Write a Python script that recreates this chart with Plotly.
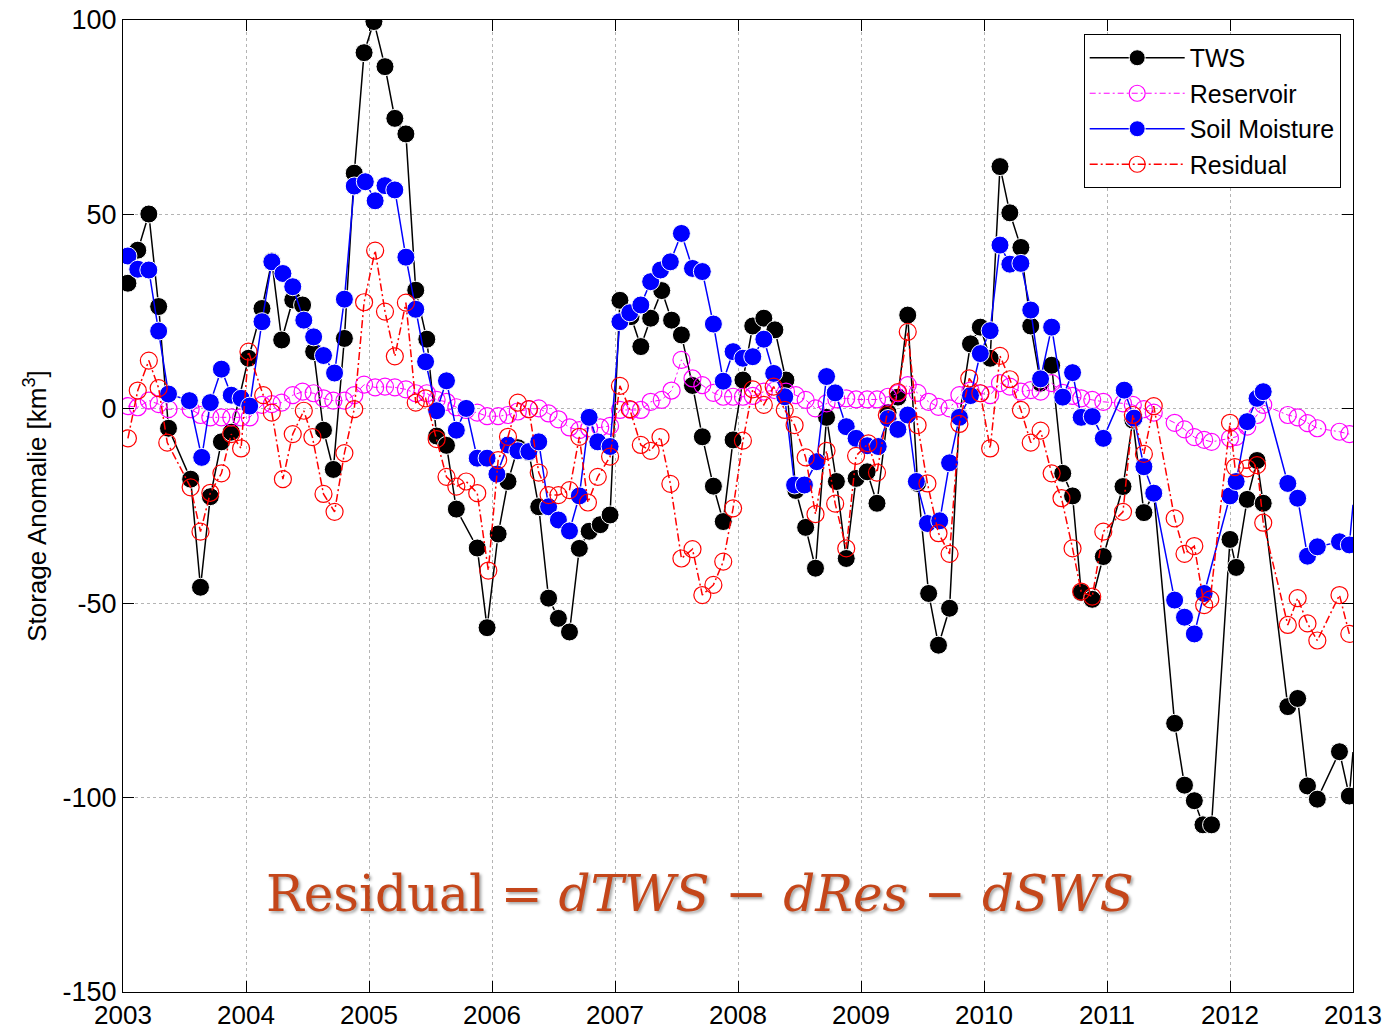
import plotly.graph_objects as go

# ---------------- data (decimal years, km^3) ----------------
tws_t = [2003.04, 2003.12, 2003.21, 2003.29, 2003.37, 2003.55, 2003.63, 2003.71, 2003.80, 2003.88,
         2004.02, 2004.13, 2004.21, 2004.29, 2004.38, 2004.46, 2004.55, 2004.63, 2004.71, 2004.80,
         2004.88, 2004.96, 2005.04, 2005.13, 2005.21, 2005.30, 2005.38, 2005.47, 2005.55, 2005.63,
         2005.71, 2005.88, 2005.96, 2006.05, 2006.13, 2006.21, 2006.30, 2006.38, 2006.46, 2006.54,
         2006.63, 2006.71, 2006.79, 2006.88, 2006.96, 2007.04, 2007.13, 2007.21, 2007.29, 2007.38,
         2007.46, 2007.54, 2007.63, 2007.71, 2007.80, 2007.88, 2007.96, 2008.04, 2008.12, 2008.21,
         2008.30, 2008.39, 2008.47, 2008.55, 2008.63, 2008.72, 2008.80, 2008.88, 2008.96, 2009.05,
         2009.13, 2009.22, 2009.30, 2009.38, 2009.46, 2009.55, 2009.63, 2009.72, 2009.80, 2009.89,
         2009.97, 2010.05, 2010.13, 2010.21, 2010.30, 2010.38, 2010.46, 2010.55, 2010.64, 2010.72,
         2010.79, 2010.88, 2010.97, 2011.13, 2011.21, 2011.30, 2011.38, 2011.55, 2011.63, 2011.71,
         2011.78, 2011.85, 2012.00, 2012.05, 2012.14, 2012.22, 2012.27, 2012.47, 2012.55, 2012.63,
         2012.71, 2012.89, 2012.97, 2013.00]
tws_v = [32.3, 40.8, 50.1, 26.3, -5.0, -18.1, -45.9, -22.6, -8.5, -6.0,
         13.0, 25.8, 38.0, 17.7, 28.0, 26.7, 14.7, -5.5, -15.6, 18.1,
         60.6, 91.6, 99.6, 88.0, 74.7, 70.7, 30.5, 17.9, -7.0, -9.4,
         -25.8, -35.8, -56.3, -32.2, -18.7, -10.0, -11.2, -25.2, -48.7, -53.9,
         -57.4, -35.9, -31.5, -29.8, -27.3, 27.9, 23.7, 16.0, 23.3, 30.4,
         22.8, 19.0, 6.0, -7.2, -19.9, -29.0, -8.0, 7.4, 21.3, 23.3,
         20.3, 7.4, -21.0, -30.5, -41.0, -2.2, -18.7, -38.5, -17.9, -16.2,
         -24.3, -1.0, 3.0, 24.1, -19.2, -47.5, -60.8, -51.3, -2.0, 16.7,
         21.0, 13.0, 62.3, 50.4, 41.5, 21.3, 6.6, 11.2, -16.6, -22.4,
         -47.2, -49.0, -38.0, -20.0, -2.9, -26.7, -21.7, -80.9, -96.8, -100.8,
         -107.0, -107.0, -33.6, -40.8, -23.3, -13.3, -24.3, -76.6, -74.5, -97.0,
         -100.4, -88.2, -99.6, -88.3]

res_t = [2003.04, 2003.12, 2003.21, 2003.29, 2003.37, 2003.55, 2003.63, 2003.71, 2003.80, 2003.88,
         2003.96, 2004.03, 2004.13, 2004.21, 2004.29, 2004.38, 2004.46, 2004.55, 2004.63, 2004.71,
         2004.80, 2004.88, 2004.96, 2005.05, 2005.13, 2005.21, 2005.30, 2005.38, 2005.47, 2005.55,
         2005.63, 2005.71, 2005.79, 2005.88, 2005.96, 2006.05, 2006.13, 2006.21, 2006.30, 2006.38,
         2006.46, 2006.54, 2006.63, 2006.71, 2006.79, 2006.88, 2006.96, 2007.04, 2007.13, 2007.21,
         2007.29, 2007.38, 2007.46, 2007.54, 2007.63, 2007.71, 2007.80, 2007.88, 2007.96, 2008.04,
         2008.12, 2008.21, 2008.30, 2008.39, 2008.47, 2008.55, 2008.63, 2008.72, 2008.80, 2008.88,
         2008.96, 2009.05, 2009.13, 2009.22, 2009.30, 2009.38, 2009.46, 2009.55, 2009.63, 2009.72,
         2009.80, 2009.89, 2009.97, 2010.05, 2010.13, 2010.21, 2010.30, 2010.38, 2010.46, 2010.55,
         2010.64, 2010.72, 2010.79, 2010.88, 2010.97, 2011.13, 2011.21, 2011.30, 2011.38, 2011.55,
         2011.63, 2011.71, 2011.79, 2011.85, 2012.00, 2012.05, 2012.14, 2012.22, 2012.27, 2012.47,
         2012.55, 2012.63, 2012.71, 2012.89, 2012.97]
res_v = [0.7, 0.4, 2.1, 1.2, -0.1, -0.1, -1.6, -2.2, -2.2, -2.2,
         -2.2, -2.2, 1.0, 1.2, 1.6, 3.5, 4.4, 4.0, 2.7, 2.1,
         2.1, 3.5, 6.2, 5.5, 5.7, 5.5, 5.0, 4.0, 4.0, 2.3,
         1.8, 0.4, -0.3, -1.0, -1.9, -1.9, -1.6, -0.7, -0.1, 0.1,
         -1.2, -2.7, -4.8, -5.5, -5.0, -4.8, -4.4, -0.3, -0.3, -0.3,
         1.8, 2.3, 4.7, 12.6, 7.8, 6.1, 4.1, 3.1, 3.1, 3.1,
         3.3, 4.4, 4.8, 4.4, 3.5, 2.3, 0.1, 1.4, 2.4, 2.7,
         2.4, 2.4, 2.4, 3.1, 4.0, 6.1, 4.1, 1.8, 0.5, 0.1,
         3.5, 4.7, 4.0, 3.5, 6.6, 5.7, 4.4, 4.8, 4.4, 6.6,
         4.1, 3.3, 2.7, 2.3, 1.8, 1.4, 1.0, -0.1, -1.0, -3.6,
         -5.3, -7.3, -8.0, -8.5, -7.6, -7.2, -4.6, -1.6, 1.0, -1.6,
         -2.2, -3.7, -5.0, -5.9, -6.5]

sm_t = [2003.04, 2003.12, 2003.21, 2003.29, 2003.37, 2003.54, 2003.64, 2003.71, 2003.80, 2003.88,
        2003.96, 2004.03, 2004.13, 2004.21, 2004.30, 2004.38, 2004.47, 2004.55, 2004.63, 2004.72,
        2004.80, 2004.88, 2004.97, 2005.05, 2005.13, 2005.21, 2005.30, 2005.38, 2005.46, 2005.55,
        2005.63, 2005.71, 2005.79, 2005.88, 2005.96, 2006.04, 2006.13, 2006.21, 2006.30, 2006.38,
        2006.46, 2006.54, 2006.63, 2006.71, 2006.79, 2006.86, 2006.96, 2007.04, 2007.12, 2007.21,
        2007.29, 2007.37, 2007.45, 2007.54, 2007.63, 2007.71, 2007.80, 2007.88, 2007.96, 2008.04,
        2008.12, 2008.21, 2008.29, 2008.38, 2008.46, 2008.54, 2008.64, 2008.72, 2008.79, 2008.88,
        2008.96, 2009.05, 2009.14, 2009.22, 2009.30, 2009.38, 2009.45, 2009.54, 2009.64, 2009.72,
        2009.80, 2009.89, 2009.97, 2010.05, 2010.13, 2010.21, 2010.30, 2010.38, 2010.46, 2010.55,
        2010.64, 2010.72, 2010.79, 2010.88, 2010.97, 2011.14, 2011.22, 2011.30, 2011.38, 2011.55,
        2011.63, 2011.71, 2011.79, 2012.00, 2012.05, 2012.14, 2012.22, 2012.27, 2012.47, 2012.55,
        2012.63, 2012.71, 2012.89, 2012.97, 2013.00]
sm_v = [39.3, 35.9, 35.7, 20.0, 3.8, 2.1, -12.5, 1.6, 10.2, 3.5,
        2.7, 0.7, 22.4, 37.8, 34.8, 31.4, 22.8, 18.5, 13.7, 9.2,
        28.2, 57.3, 58.4, 53.5, 57.4, 56.3, 39.0, 25.6, 12.1, -0.5,
        7.2, -5.5, 0.1, -12.7, -12.7, -16.8, -9.3, -10.8, -11.0, -8.5,
        -25.2, -28.6, -31.4, -22.4, -2.2, -8.5, -9.7, 22.4, 24.7, 26.7,
        32.7, 35.7, 37.8, 45.1, 36.1, 35.3, 21.8, 7.1, 14.7, 13.0,
        13.4, 17.9, 9.1, 3.1, -19.6, -19.6, -13.6, 8.3, 4.1, -4.6,
        -7.6, -9.5, -9.7, -2.5, -5.3, -1.6, -18.7, -29.5, -28.8, -13.9,
        -2.2, 3.4, 14.2, 20.1, 42.1, 37.2, 37.4, 25.4, 7.7, 21.0,
        3.0, 9.3, -2.2, -2.0, -7.6, 4.8, -2.4, -14.9, -21.7, -49.2,
        -53.6, -57.9, -47.5, -22.4, -18.7, -3.3, 2.7, 4.4, -19.2, -23.0,
        -37.9, -35.5, -34.2, -35.0, -24.7]

rsd_t = [2003.04, 2003.12, 2003.21, 2003.29, 2003.36, 2003.55, 2003.63, 2003.71, 2003.80, 2003.88,
         2003.96, 2004.02, 2004.14, 2004.21, 2004.30, 2004.38, 2004.47, 2004.54, 2004.63, 2004.72,
         2004.80, 2004.88, 2004.96, 2005.05, 2005.13, 2005.21, 2005.30, 2005.38, 2005.46, 2005.55,
         2005.63, 2005.71, 2005.79, 2005.88, 2005.97, 2006.05, 2006.13, 2006.21, 2006.30, 2006.38,
         2006.46, 2006.54, 2006.63, 2006.71, 2006.78, 2006.86, 2006.96, 2007.04, 2007.12, 2007.21,
         2007.29, 2007.37, 2007.45, 2007.54, 2007.63, 2007.71, 2007.80, 2007.88, 2007.96, 2008.04,
         2008.12, 2008.21, 2008.29, 2008.38, 2008.46, 2008.55, 2008.63, 2008.72, 2008.79, 2008.88,
         2008.96, 2009.06, 2009.13, 2009.21, 2009.30, 2009.38, 2009.46, 2009.54, 2009.63, 2009.72,
         2009.80, 2009.88, 2009.97, 2010.05, 2010.13, 2010.21, 2010.30, 2010.38, 2010.46, 2010.55,
         2010.63, 2010.72, 2010.79, 2010.88, 2010.97, 2011.13, 2011.21, 2011.30, 2011.38, 2011.55,
         2011.63, 2011.71, 2011.79, 2011.84, 2012.00, 2012.04, 2012.14, 2012.22, 2012.27, 2012.47,
         2012.55, 2012.63, 2012.71, 2012.89, 2012.97]
rsd_v = [-7.6, 4.7, 12.4, 5.3, -8.7, -20.2, -31.6, -21.6, -16.6, -6.5,
         -10.2, 14.7, 3.5, -1.0, -18.1, -6.5, -0.5, -7.3, -21.9, -26.5,
         -11.4, -0.1, 27.4, 40.7, 25.0, 13.5, 27.3, 1.6, 2.7, -7.8,
         -17.5, -20.0, -18.7, -21.7, -41.6, -13.2, -7.2, 1.6, -0.1, -16.4,
         -22.2, -22.2, -20.9, -7.2, -24.1, -17.5, -12.3, 5.9, -0.1, -9.3,
         -10.8, -7.3, -19.3, -38.5, -36.1, -47.9, -45.3, -39.3, -25.6, -8.2,
         5.0, 1.0, 5.7, -0.3, -4.2, -12.5, -27.1, -10.8, -24.4, -35.9,
         -12.1, -8.9, -16.4, -1.6, 4.3, 19.8, -4.2, -19.2, -32.0, -37.3,
         -3.9, 7.8, 4.0, -10.2, 13.6, 7.6, -0.3, -8.7, -5.6, -16.6,
         -23.0, -35.9, -47.0, -48.3, -31.6, -26.5, -1.6, -11.6, 0.7, -28.2,
         -37.3, -35.3, -50.5, -49.0, -3.6, -15.0, -15.3, -14.5, -29.3, -55.6,
         -48.7, -55.2, -59.6, -47.9, -57.9]

year_ticks = list(range(2003, 2014))
y_ticks = [-150, -100, -50, 0, 50, 100]
y_tick_text = ["-150", "-100", "-50", "0", "50", "100"]


def sizes(t, s):
    # no marker at the clipped continuation point on the right edge
    return [s if v < 2013 else 0 for v in t]


# ---------------- figure ----------------
fig = go.Figure()

fig.add_trace(go.Scatter(
    x=tws_t, y=tws_v, name="TWS", mode="lines+markers",
    line=dict(color="black", width=1.5),
    marker=dict(symbol="circle", size=sizes(tws_t, 18), color="black", opacity=1)))

fig.add_trace(go.Scatter(
    x=res_t, y=res_v, name="Reservoir", mode="lines+markers",
    line=dict(color="#ff00ff", width=1, dash="6px,3px,2px,3px"),
    marker=dict(symbol="circle-open", size=17, color="#ff00ff", opacity=1, line=dict(width=1.2))))

fig.add_trace(go.Scatter(
    x=sm_t, y=sm_v, name="Soil Moisture", mode="lines+markers",
    line=dict(color="#0000ff", width=1.5),
    marker=dict(symbol="circle", size=sizes(sm_t, 18), color="#0000ff", opacity=1)))

fig.add_trace(go.Scatter(
    x=rsd_t, y=rsd_v, name="Residual", mode="lines+markers",
    line=dict(color="#ff0000", width=1.5, dash="8px,3px,2px,3px"),
    marker=dict(symbol="circle-open", size=17, color="#ff0000", opacity=1, line=dict(width=1.2))))

sans = "Liberation Sans, Arial, sans-serif"
axis_font = dict(family=sans, size=26, color="black")

fig.update_layout(
    width=1393, height=1029,
    margin=dict(l=123, r=40, t=20, b=37, autoexpand=False),
    paper_bgcolor="white", plot_bgcolor="white",
    font=dict(family=sans, size=26, color="black"),
    showlegend=True,
    legend=dict(
        x=0.990, y=0.9856, xanchor="right", yanchor="top",
        bgcolor="white", bordercolor="black", borderwidth=1,
        font=dict(family=sans, size=25, color="black"),
        itemwidth=95, tracegroupgap=0),
    xaxis=dict(
        range=[2003, 2013], tickvals=year_ticks, ticktext=[str(v) for v in year_ticks],
        automargin=False,
        showline=True, linecolor="black", linewidth=1, mirror="ticks",
        ticks="inside", ticklen=11, tickcolor="black",
        showgrid=True, gridcolor="#b4b4b4", gridwidth=1, griddash="dot",
        zeroline=False, tickfont=axis_font),
    yaxis=dict(
        range=[-150, 100], tickvals=y_ticks, ticktext=y_tick_text,
        automargin=False,
        showline=True, linecolor="black", linewidth=1, mirror="ticks",
        ticks="inside", ticklen=11, tickcolor="black",
        showgrid=True, gridcolor="#b4b4b4", gridwidth=1, griddash="dot",
        zeroline=False, tickfont=dict(family=sans, size=27, color="black"),
        title=dict(text="Storage Anomalie [km<sup>3</sup>]",
                   font=dict(family=sans, size=26),
                   standoff=8)),
)

fig.add_annotation(
    xref="paper", yref="paper", x=0.469, y=0.101, xanchor="center", yanchor="middle",
    text="Residual = <i>dTWS</i> − <i>dRes</i> − <i>dSWS</i>",
    showarrow=False,
    font=dict(family="DejaVu Serif, Liberation Serif, serif", size=50, color="#c4461a",
              shadow="2px 2px 3px rgba(0,0,0,0.35)"))

fig.write_html("out.html")
